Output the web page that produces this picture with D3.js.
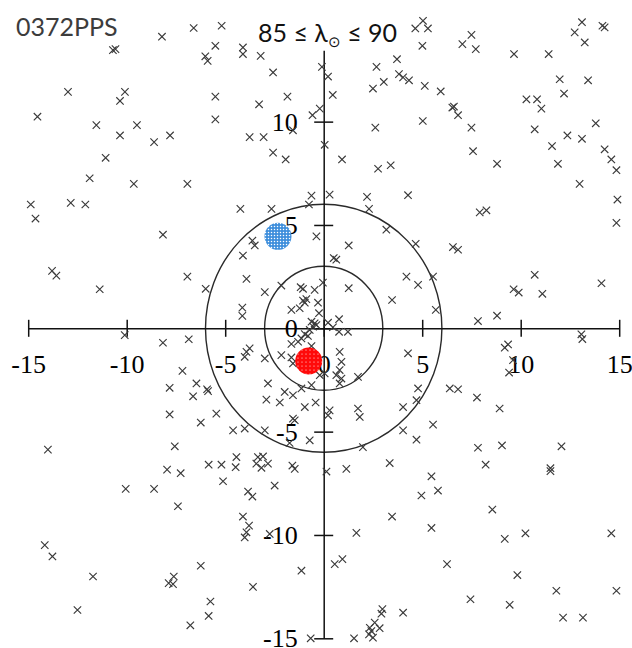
<!DOCTYPE html>
<html>
<head>
<meta charset="utf-8">
<script src="https://cdn.jsdelivr.net/npm/d3@7"></script>
<style>
  html, body { margin: 0; padding: 0; background: #fff; }
  svg { display: block; }
</style>
</head>
<body>
<div id="chart"></div>
<script>
// ---------------- data ----------------
const chartLabel = "0372PPS";
const xTicks = [-15, -10, -5, 0, 5, 10, 15];
const yTicks = [-15, -10, -5, 0, 5, 10];
const ringRadii = [3, 6];
const radiantX = [-2.32, -0.76];
const radiantY = [4.45, -1.58];
const radiantNames = ["blue", "red"];

const points = [
[-6.60,14.53],[-8.21,14.11],[-10.70,13.46],[-10.57,13.51],[-6.01,13.16],[-5.89,12.94],[-12.98,11.44],[-10.09,11.44],
[-10.34,11.00],[-14.53,10.24],[-11.54,9.83],[-9.48,9.83],[-10.34,9.33],[-8.61,9.01],[-7.80,9.33],[-11.07,8.25],
[-11.88,7.26],[-9.64,6.99],[-6.92,6.99],[-14.87,5.99],[-12.84,6.07],[-12.10,5.99],[-14.63,5.31],[-5.18,14.64],
[-5.50,13.67],[-4.10,13.59],[-4.10,13.27],[-3.20,13.18],[-2.57,12.38],[-5.50,11.21],[-3.28,10.84],[-1.84,11.21],
[-5.50,10.11],[-3.76,9.25],[-3.05,9.25],[-1.56,9.58],[-2.57,8.50],[-1.93,8.17],[-0.09,12.65],[0.22,12.18],
[0.46,11.29],[-0.20,10.63],[-0.57,10.31],[0.05,8.88],[0.93,8.17],[2.68,12.65],[3.72,13.02],[3.82,12.30],
[4.03,12.14],[4.33,12.00],[3.05,11.92],[2.50,11.60],[4.65,14.51],[5.04,14.88],[5.29,14.51],[5.01,13.67],
[5.03,10.03],[2.62,9.71],[2.76,7.72],[3.40,7.89],[-0.62,6.42],[-0.75,5.99],[0.30,6.47],[2.20,6.36],
[2.30,5.78],[4.28,6.44],[-4.23,5.78],[-2.65,5.78],[7.50,14.20],[7.04,13.75],[7.72,13.51],[9.66,13.27],
[11.42,13.27],[13.11,14.81],[12.74,14.32],[13.25,13.83],[14.15,14.64],[14.26,14.56],[5.13,11.73],[5.94,11.46],
[6.53,10.68],[6.61,10.73],[6.82,10.31],[7.50,9.71],[7.58,8.57],[8.80,7.96],[10.29,11.08],[10.83,11.08],
[11.05,10.63],[11.98,12.05],[13.42,12.00],[12.20,11.36],[10.71,9.63],[12.37,9.33],[13.11,9.17],[11.59,8.82],
[11.89,7.96],[13.81,9.92],[14.26,8.66],[14.60,8.17],[14.86,7.65],[12.99,6.99],[14.91,6.23],[7.92,5.61],
[8.26,5.71],[14.86,5.10],[-8.16,4.53],[-13.79,2.78],[-13.57,2.55],[-11.37,1.89],[-6.92,2.50],[-5.99,1.91],
[-10.10,-0.33],[-8.16,-0.70],[-6.85,-0.53],[-7.17,-2.06],[-7.82,-2.88],[-6.46,-2.67],[-6.63,-3.29],[-5.92,-2.95],
[-5.87,-3.04],[-7.82,-4.17],[-6.24,-4.56],[-5.45,-4.13],[-0.37,4.45],[-3.62,4.24],[-3.50,4.01],[-4.10,3.52],
[1.27,4.01],[0.51,3.40],[0.64,3.32],[3.18,4.77],[4.67,4.09],[4.20,2.50],[4.79,2.10],[3.47,1.37],
[-3.92,2.39],[-2.99,1.75],[-2.15,2.07],[-1.17,1.99],[-1.05,1.91],[-0.46,1.86],[-0.04,2.21],[1.27,1.94],
[-4.13,1.00],[-4.13,0.60],[-1.05,1.34],[-0.96,1.24],[-0.88,1.41],[-1.22,0.97],[-1.64,0.89],[-0.29,1.24],
[-0.24,0.73],[-0.62,0.32],[-0.46,0.24],[-0.37,0.16],[-0.54,0.08],[-0.71,-0.08],[-0.96,-0.28],[-1.13,-0.49],
[-0.80,-0.37],[-1.30,-0.65],[0.22,0.27],[0.78,0.44],[0.47,0.05],[0.78,-0.17],[1.23,-0.17],[-1.64,-0.76],
[-0.62,-0.86],[-3.76,-0.97],[-4.01,-1.38],[-3.92,-1.14],[-2.99,-1.46],[-2.15,-1.30],[-1.64,-1.41],[-1.56,-1.70],
[0.81,-1.14],[0.90,-1.62],[4.28,-1.21],[0.81,-2.02],[0.64,-2.27],[0.90,-2.43],[0.81,-2.67],[-0.20,-2.27],
[0.05,-2.18],[1.74,-2.35],[-0.62,-2.75],[-2.83,-2.67],[-1.98,-3.08],[-1.56,-3.24],[-1.13,-2.91],[-2.91,-3.45],
[-2.23,-3.59],[-0.96,-3.81],[-0.41,-3.59],[0.30,-3.97],[0.22,-4.21],[1.74,-3.88],[1.83,-4.29],[-1.56,-4.37],
[-1.47,-4.45],[-4.60,-4.94],[-4.01,-4.85],[-2.99,-4.94],[-0.71,-5.42],[4.03,-3.81],[4.71,-3.48],[4.79,-2.91],
[4.03,-4.94],[4.71,-5.39],[1.99,-5.75],[6.56,3.93],[6.82,3.80],[5.55,2.50],[5.69,0.89],[10.71,2.59],
[9.64,1.89],[9.90,1.73],[11.10,1.67],[14.10,2.18],[7.83,0.35],[8.80,0.61],[13.08,-0.29],[13.13,-0.52],
[9.36,-0.78],[9.19,-0.94],[9.61,-1.54],[9.41,-2.14],[6.40,-2.91],[6.82,-2.95],[7.78,-3.35],[8.93,-3.88],
[5.55,-4.66],[-14.00,-5.87],[-7.56,-5.71],[-7.95,-6.84],[-7.26,-7.01],[-5.84,-6.60],[-10.05,-7.77],[-8.61,-7.77],
[-7.40,-8.61],[-14.16,-10.49],[-13.77,-11.04],[-11.71,-12.01],[-6.24,-11.49],[-7.61,-12.01],[-7.87,-12.33],[-7.65,-12.38],
[-5.75,-13.22],[-5.84,-13.92],[-6.77,-14.37],[-12.50,-13.63],[-1.73,-5.55],[-5.19,-6.60],[-4.43,-6.23],[-4.47,-6.72],
[-3.34,-6.23],[-3.08,-6.20],[-3.42,-6.55],[-3.16,-6.75],[-2.83,-6.55],[-1.59,-6.64],[-1.47,-6.80],[-5.11,-7.40],
[-2.49,-7.61],[-3.84,-7.90],[-3.62,-8.14],[0.14,-6.93],[1.15,-6.80],[3.35,-6.52],[4.96,-8.09],[-4.10,-9.11],
[-3.79,-9.55],[-3.92,-9.87],[-4.01,-10.12],[-2.74,-9.95],[1.66,-9.90],[3.47,-9.11],[0.56,-11.41],[0.95,-11.17],
[-1.13,-11.73],[-3.59,-12.51],[2.98,-13.59],[2.93,-13.81],[2.59,-14.24],[2.34,-14.49],[2.42,-14.65],[2.84,-14.51],
[2.30,-14.81],[2.50,-14.97],[4.03,-13.76],[1.54,-15.00],[-0.66,-15.00],[7.83,-5.78],[9.05,-5.67],[8.22,-6.60],
[12.07,-5.71],[11.51,-6.77],[11.51,-6.91],[5.47,-7.16],[5.80,-7.85],[8.56,-8.77],[5.47,-9.66],[9.19,-10.19],
[10.24,-9.92],[14.60,-9.92],[6.26,-11.41],[9.83,-11.94],[7.45,-13.11],[9.44,-13.38],[11.81,-12.70],[14.86,-12.70],
[12.15,-14.00],[13.16,-14.00]
];

// ---------------- chart ----------------
const W = 632, H = 648;
const svg = d3.select("#chart").append("svg")
  .attr("width", W).attr("height", H)
  .style("font-family", "'Liberation Serif', 'Times New Roman', serif");

const defs = svg.append("defs");
function dotPattern(id, bg, step, r) {
  const p = defs.append("pattern").attr("id", id)
    .attr("patternUnits", "userSpaceOnUse").attr("width", step).attr("height", step);
  p.append("rect").attr("width", step).attr("height", step).attr("fill", bg);
  p.append("circle").attr("cx", step / 2).attr("cy", step / 2).attr("r", r).attr("fill", "#fff");
}
dotPattern("pat-blue", "#3f8fdc", 3, 0.75);
dotPattern("pat-red", "#ff0a0a", 4, 0.55);

const x = d3.scaleLinear().domain([-15, 15]).range([28.2, 619.2]);
const y = d3.scaleLinear().domain([-15, 15]).range([638.3, 18.3]);
const x0 = x(0), y0 = y(0);
const fmt = d => String(d);   // plain hyphen-minus, as in the reference

// rings
svg.append("g").selectAll("ellipse").data(ringRadii).join("ellipse")
  .attr("cx", x0).attr("cy", y0)
  .attr("rx", d => x(d) - x0).attr("ry", d => y0 - y(d))
  .attr("fill", "none").attr("stroke", "#2a2a2a").attr("stroke-width", 1.4);

// x axis
const xAxis = svg.append("g").attr("transform", `translate(0,${y0})`)
  .call(d3.axisBottom(x).tickValues(xTicks).tickSizeOuter(0).tickSizeInner(0).tickFormat(fmt));
xAxis.select(".domain").attr("stroke", "#111").attr("stroke-width", 1.5);
xAxis.selectAll(".tick line").attr("y1", -8.5).attr("y2", 8.5).attr("stroke", "#111").attr("stroke-width", 1.5);
xAxis.selectAll(".tick text").attr("y", 44.5).attr("dy", 0)
  .attr("font-size", 26).attr("fill", "#000").attr("font-family", "'Liberation Serif', serif");

// y axis (line ends below the title)
const yAxisScale = y.copy().domain([-15, 13.45]).range([y(-15), y(13.45)]);
const yAxis = svg.append("g").attr("transform", `translate(${x0},0)`)
  .call(d3.axisLeft(yAxisScale).tickValues(yTicks).tickSizeOuter(0).tickSizeInner(0).tickFormat(fmt));
yAxis.select(".domain").attr("stroke", "#111").attr("stroke-width", 1.5);
yAxis.selectAll(".tick line").attr("x1", -9.5).attr("x2", 9.5).attr("stroke", "#111").attr("stroke-width", 1.5);
yAxis.selectAll(".tick text").attr("x", -26).attr("dy", 8.5).attr("text-anchor", "end")
  .attr("font-size", 26).attr("fill", "#000").attr("font-family", "'Liberation Serif', serif");

// sporadic points (x marks)
const s = 3.7;
svg.append("g").selectAll("path").data(points).join("path")
  .attr("transform", d => `translate(${x(d[0])},${y(d[1])})`)
  .attr("d", `M${-s},${-s}L${s},${s}M${-s},${s}L${s},${-s}`)
  .attr("stroke", "#3a3a3a").attr("stroke-width", 1.15).attr("fill", "none");

// radiants
svg.append("g").selectAll("circle").data(radiantNames).join("circle")
  .attr("cx", (d, i) => x(radiantX[i])).attr("cy", (d, i) => y(radiantY[i]))
  .attr("r", 13.5)
  .attr("fill", d => `url(#pat-${d})`);

// labels
svg.append("text").attr("x", 16).attr("y", 36)
  .attr("font-family", "Lato, 'Open Sans', sans-serif").attr("font-size", 25)
  .attr("fill", "#3c3c3c").text(chartLabel);

const title = svg.append("text").attr("x", 258).attr("y", 41.5)
  .attr("font-family", "Lato, 'Open Sans', sans-serif").attr("font-size", 25).attr("fill", "#111");
title.append("tspan").text("85 \u2264 \u03bb");
title.append("tspan").attr("font-size", 15).attr("dy", 5).text("\u2299");
title.append("tspan").attr("dy", -5).text(" \u2264 90");
</script>
</body>
</html>
